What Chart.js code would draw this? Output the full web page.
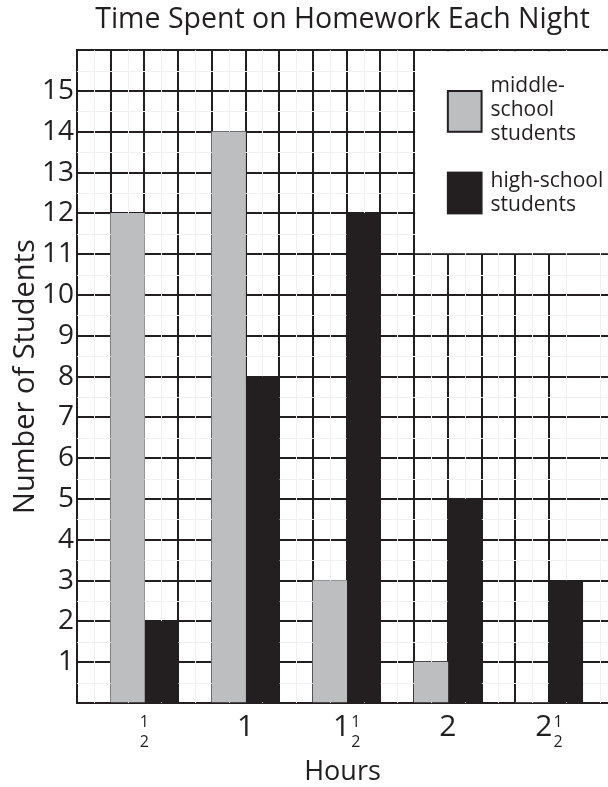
<!DOCTYPE html>
<html>
<head>
<meta charset="utf-8">
<script src="https://cdn.jsdelivr.net/npm/chart.js@4.4.0/dist/chart.umd.min.js"></script>
<style>
  html, body { margin: 0; padding: 0; background: #fff; }
  #contenedor { width: 608px; height: 787px; }
</style>
</head>
<body>
<div id="contenedor"><canvas id="grafHoras"></canvas></div>
<script>
// datos
const categorias = ['½', '1', '1½', '2', '2½'];
const secundaria = [12, 14, 3, 1, 0];   // middle-school students
const preparatoria = [2, 8, 12, 5, 3];  // high-school students
const ticksY = [1, 2, 3, 4, 5, 6, 7, 8, 9, 10, 11, 12, 13, 14, 15];
const leyendaSecundaria = ['middle-', 'school', 'students'];
const leyendaPreparatoria = ['high-school', 'students'];

const TINTA = '#231f20';
const GRIS = '#bcbec0';
const FUENTE = "'Open Sans', Lato, sans-serif";

// cada categoria ocupa 3 columnas: vacia, gris, negra
const datosSecundaria = secundaria.map((v, i) => ({ x: 3 * i + 1.5, y: v }));
const datosPreparatoria = preparatoria.map((v, i) => ({ x: 3 * i + 2.5, y: v }));

const extras = {
    id: 'extras',
    beforeDatasetsDraw(chart) {
        // lineas tenues a medio cuadro
        const { ctx, chartArea: a, scales: { x, y } } = chart;
        ctx.save();
        ctx.strokeStyle = '#f1f1f1';
        ctx.lineWidth = 1;
        for (let v = 0.5; v < 16; v += 1) {
            const py = Math.round(y.getPixelForValue(v)) + 0.5;
            ctx.beginPath(); ctx.moveTo(a.left, py); ctx.lineTo(a.right, py); ctx.stroke();
        }
        for (let v = 0.5; v < 16; v += 1) {
            const px = Math.round(x.getPixelForValue(v)) + 0.5;
            ctx.beginPath(); ctx.moveTo(px, a.top); ctx.lineTo(px, a.bottom); ctx.stroke();
        }
        ctx.restore();
    },
    afterDraw(chart) {
        const { ctx, chartArea: a, scales: { x, y } } = chart;
        ctx.save();

        // caja de la leyenda
        const x10 = x.getPixelForValue(10);
        const y11 = y.getPixelForValue(11);
        ctx.fillStyle = '#fff';
        ctx.fillRect(x10 + 1, a.top + 1, a.right - x10, y11 - a.top - 2);

        ctx.lineWidth = 2;
        ctx.strokeStyle = TINTA;
        const cx0 = x.getPixelForValue(11), cx1 = x.getPixelForValue(12);
        ctx.fillStyle = GRIS;
        ctx.fillRect(cx0, y.getPixelForValue(15), cx1 - cx0, y.getPixelForValue(14) - y.getPixelForValue(15));
        ctx.strokeRect(cx0, y.getPixelForValue(15), cx1 - cx0, y.getPixelForValue(14) - y.getPixelForValue(15));
        ctx.fillStyle = TINTA;
        ctx.fillRect(cx0 - 1, y.getPixelForValue(13) - 1, cx1 - cx0 + 2, y.getPixelForValue(12) - y.getPixelForValue(13) + 2);

        ctx.font = '21px ' + FUENTE;
        ctx.textAlign = 'left';
        ctx.textBaseline = 'alphabetic';
        leyendaSecundaria.forEach((t, i) => ctx.fillText(t, cx1 + 9, 92 + i * 24));
        leyendaPreparatoria.forEach((t, i) => ctx.fillText(t, cx1 + 9, 187 + i * 24));

        // etiquetas del eje x con fracciones
        categorias.forEach((c, i) => {
            const cx = x.getPixelForValue(3 * i + 2);
            const entero = c.replace('½', '');
            const mitad = c.endsWith('½');
            ctx.font = '30px ' + FUENTE;
            const w1 = entero ? ctx.measureText(entero).width : 0;
            ctx.font = '16px ' + FUENTE;
            const w2 = mitad ? ctx.measureText('2').width : 0;
            const gap = entero && mitad ? 1 : 0;
            const inicio = cx - (w1 + gap + w2) / 2;
            ctx.textBaseline = 'middle';
            if (entero) {
                ctx.font = '30px ' + FUENTE;
                ctx.textAlign = 'left';
                ctx.fillText(entero, inicio, a.bottom + 24);
            }
            if (mitad) {
                ctx.font = '16px ' + FUENTE;
                ctx.textAlign = 'center';
                const fx = inicio + w1 + gap + w2 / 2;
                ctx.fillText('1', fx, a.bottom + 19);
                ctx.fillText('2', fx, a.bottom + 39);
            }
        });
        ctx.restore();
    }
};

new Chart(document.getElementById('grafHoras'), {
    type: 'bar',
    data: {
        datasets: [
            {
                label: 'middle-school students',
                data: datosSecundaria,
                backgroundColor: GRIS,
                borderWidth: 0,
                grouped: false,
                barPercentage: 1,
                categoryPercentage: 1
            },
            {
                label: 'high-school students',
                data: datosPreparatoria,
                backgroundColor: TINTA,
                borderWidth: 0,
                grouped: false,
                barPercentage: 1,
                categoryPercentage: 1
            }
        ]
    },
    options: {
        responsive: true,
        maintainAspectRatio: false,
        animation: false,
        layout: { padding: { left: 0, right: 0, top: 0, bottom: 0 } },
        plugins: {
            legend: { display: false },
            tooltip: { enabled: false },
            title: {
                display: true,
                text: 'Time Spent on Homework Each Night',
                color: TINTA,
                fullSize: false,
                font: { family: FUENTE, size: 28.5, weight: 'normal', lineHeight: 1.2 },
                padding: { top: 3, bottom: 13 }
            }
        },
        scales: {
            x: {
                type: 'linear',
                min: 0,
                max: 15.75,
                offset: false,
                z: 1,
                afterFit: s => { s.height = 84; },
                afterBuildTicks: s => { s.ticks = s.ticks.filter(t => Number.isInteger(t.value)); },
                ticks: { stepSize: 1, display: false },
                grid: { color: TINTA, lineWidth: 2, drawTicks: false, offset: false },
                border: { color: TINTA, width: 2 },
                title: {
                    display: true,
                    text: 'Hours',
                    color: TINTA,
                    font: { family: FUENTE, size: 27, lineHeight: 1 },
                    padding: { top: 0, bottom: 1 }
                }
            },
            y: {
                min: 0,
                max: 16,
                z: 1,
                afterFit: s => { s.width = 77; },
                afterBuildTicks: s => { s.ticks = ticksY.map(v => ({ value: v })).concat([{ value: 0 }, { value: 16 }]); },
                ticks: {
                    stepSize: 1,
                    color: TINTA,
                    padding: 3,
                    font: { family: FUENTE, size: 28 },
                    callback: v => ticksY.includes(v) ? v : ''
                },
                grid: { color: TINTA, lineWidth: 2, drawTicks: false },
                border: { color: TINTA, width: 2 },
                title: {
                    display: true,
                    text: 'Number of Students',
                    color: TINTA,
                    font: { family: FUENTE, size: 29, lineHeight: 1.2 },
                    padding: { top: 8, bottom: 0 }
                }
            }
        }
    },
    plugins: [extras]
});
</script>
</body>
</html>
